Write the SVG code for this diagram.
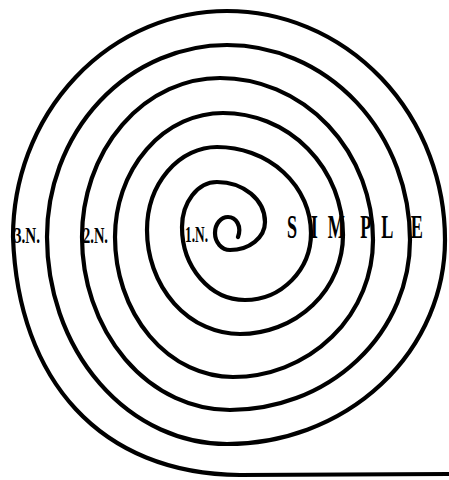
<svg xmlns="http://www.w3.org/2000/svg" width="449" height="480" viewBox="0 0 449 480">
<style>
.sp{fill:none;stroke:#000;stroke-width:4.2;stroke-linecap:round;stroke-linejoin:round}
.lb{font-family:"Liberation Serif","Times New Roman",serif;font-weight:bold;fill:#000}
.word{font-family:"Liberation Serif","Times New Roman",serif;font-weight:bold;fill:#000}
</style>
<rect width="449" height="480" fill="#fff"/>
<g id="spiral">
<path class="sp" d="M238,237 C242,226 236,217 228,217
A13,16 0 0 0 215,233
A15,17 0 0 0 230,250
A35,28 0 0 0 265,222
A48,40 0 0 0 217,182
A35,45 0 0 0 182,227
A63,73 0 0 0 245,300
A66,67 0 0 0 311,233
A94,86 0 0 0 217,147
A70,83 0 0 0 147,230
A93,104 0 0 0 240,334
A103,99 0 0 0 343,235
A120,122 0 0 0 223,113
A108,124 0 0 0 115,237
A118,140 0 0 0 233,377
A140,137 0 0 0 373,240
A153,162 0 0 0 220,78
A138,159 0 0 0 82,237
A148,173 0 0 0 230,410
A180,170 0 0 0 410,240
A183,195 0 0 0 227,45
A180,192 0 0 0 47,237
A180,207 0 0 0 227,444
A218,204 0 0 0 445,240
A218,229 0 0 0 227,11
A214,226 0 0 0 13,237
C18,380 100,474 240,475
L449,474"/>
</g>
<g id="label-3n"><text class="lb" x="14" y="243" font-size="24" textLength="26" lengthAdjust="spacingAndGlyphs">3.N.</text></g>
<g id="label-2n"><text class="lb" x="83" y="243" font-size="24" textLength="25" lengthAdjust="spacingAndGlyphs">2.N.</text></g>
<g id="label-1n"><text class="lb" x="185" y="242" font-size="23" textLength="23" lengthAdjust="spacingAndGlyphs">1.N.</text></g>
<g id="label-simple"><text class="word" transform="scale(0.55,1)" x="522 565 596 655 693 747" y="238" font-size="33">SIMPLE</text></g>
</svg>
